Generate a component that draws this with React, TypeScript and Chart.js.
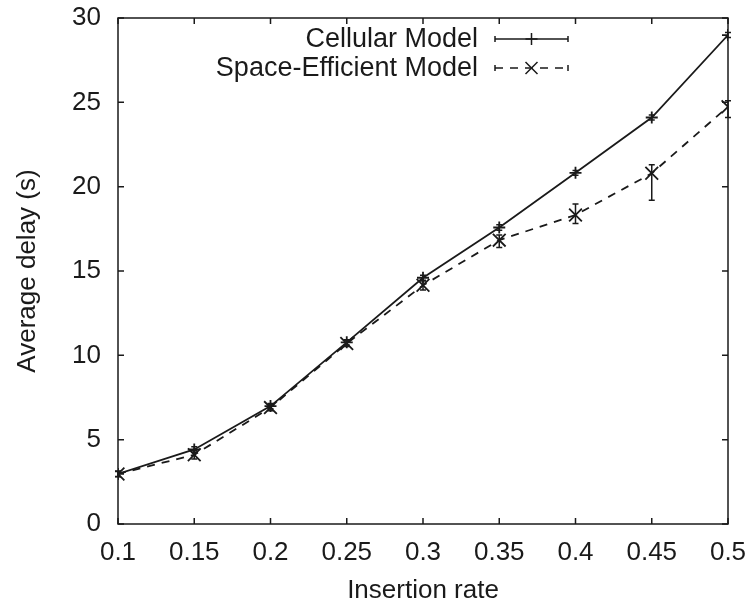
import React, { useEffect, useRef } from "react";
import { Chart, registerables } from "chart.js";

Chart.register(...registerables);

const insertionRate = [0.1, 0.15, 0.2, 0.25, 0.3, 0.35, 0.4, 0.45, 0.5];
const xTickLabels = ["0.1", "0.15", "0.2", "0.25", "0.3", "0.35", "0.4", "0.45", "0.5"];
const yTickValues = [0, 5, 10, 15, 20, 25, 30];

const cellular = [2.97, 4.42, 6.99, 10.77, 14.6, 17.58, 20.82, 24.1, 28.99];
const cellularLow = [2.82, 4.25, 6.84, 10.62, 14.45, 17.42, 20.68, 23.95, 28.84];
const cellularHigh = [3.12, 4.58, 7.14, 10.92, 14.75, 17.74, 20.96, 24.25, 29.14];

const spaceEff = [2.97, 4.1, 6.9, 10.7, 14.15, 16.83, 18.32, 20.79, 24.74];
const spaceLow = [2.8, 3.85, 6.72, 10.52, 13.87, 16.4, 17.82, 19.2, 24.1];
const spaceHigh = [3.14, 4.35, 7.08, 10.88, 14.4, 17.13, 18.97, 21.3, 25.09];

const seriesLabels = ["Cellular Model", "Space-Efficient Model"];

const FONT = "'Liberation Sans', Arial, Helvetica, sans-serif";
const INK = "#1a1a1a";

const errorBars = [
  { low: cellularLow, high: cellularHigh },
  { low: spaceLow, high: spaceHigh },
];

const gnuplotPlugin = {
  id: "gnuplotFrame",
  afterDatasetsDraw(chart: any) {
    const { ctx, chartArea, scales } = chart;
    const xs = scales.x;
    const ys = scales.y;
    ctx.save();
    ctx.setLineDash([]);
    ctx.strokeStyle = INK;
    ctx.lineWidth = 1.5;
    errorBars.forEach((eb) => {
      insertionRate.forEach((xv, i) => {
        const px = xs.getPixelForValue(xv);
        const yl = ys.getPixelForValue(eb.low[i]);
        const yh = ys.getPixelForValue(eb.high[i]);
        ctx.beginPath();
        ctx.moveTo(px, yl);
        ctx.lineTo(px, yh);
        ctx.moveTo(px - 3, yl);
        ctx.lineTo(px + 3, yl);
        ctx.moveTo(px - 3, yh);
        ctx.lineTo(px + 3, yh);
        ctx.stroke();
      });
    });
    ctx.lineWidth = 1.5;
    ctx.strokeRect(chartArea.left, chartArea.top, chartArea.right - chartArea.left, chartArea.bottom - chartArea.top);
    const tl = 6;
    ctx.beginPath();
    insertionRate.forEach((v) => {
      const px = xs.getPixelForValue(v);
      ctx.moveTo(px, chartArea.bottom);
      ctx.lineTo(px, chartArea.bottom - tl);
      ctx.moveTo(px, chartArea.top);
      ctx.lineTo(px, chartArea.top + tl);
    });
    yTickValues.forEach((v) => {
      const py = ys.getPixelForValue(v);
      ctx.moveTo(chartArea.left, py);
      ctx.lineTo(chartArea.left + tl, py);
      ctx.moveTo(chartArea.right, py);
      ctx.lineTo(chartArea.right - tl, py);
    });
    ctx.stroke();

    const datasets = chart.data.datasets;
    const textRight = chartArea.right - 250;
    const sx0 = chartArea.right - 233;
    const sx1 = chartArea.right - 160;
    const rows = [chartArea.top + 21, chartArea.top + 50];
    ctx.font = `27px ${FONT}`;
    ctx.fillStyle = INK;
    ctx.textAlign = "right";
    ctx.textBaseline = "middle";
    datasets.forEach((ds: any, i: number) => {
      const y = rows[i];
      ctx.fillText(ds.label, textRight, y + 1);
      ctx.setLineDash(ds.borderDash || []);
      ctx.lineWidth = 1.5;
      ctx.beginPath();
      ctx.moveTo(sx0, y);
      ctx.lineTo(sx1, y);
      ctx.stroke();
      ctx.setLineDash([]);
      ctx.beginPath();
      ctx.moveTo(sx0, y - 3);
      ctx.lineTo(sx0, y + 3);
      ctx.moveTo(sx1, y - 3);
      ctx.lineTo(sx1, y + 3);
      const mx = (sx0 + sx1) / 2;
      const r = 6;
      if (ds.pointStyle === "cross") {
        ctx.moveTo(mx - r, y);
        ctx.lineTo(mx + r, y);
        ctx.moveTo(mx, y - r);
        ctx.lineTo(mx, y + r);
      } else {
        const d = 6;
        ctx.moveTo(mx - d, y - d);
        ctx.lineTo(mx + d, y + d);
        ctx.moveTo(mx - d, y + d);
        ctx.lineTo(mx + d, y - d);
      }
      ctx.stroke();
    });
    ctx.restore();
  },
};

export default function App() {
  const ref = useRef<HTMLCanvasElement | null>(null);
  useEffect(() => {
    if (!ref.current) return;
    const chart = new Chart(ref.current, {
      type: "line",
      data: {
        datasets: [
          {
            label: seriesLabels[0],
            data: insertionRate.map((x, i) => ({ x, y: cellular[i] })),
            borderColor: INK,
            backgroundColor: INK,
            borderWidth: 1.8,
            pointStyle: "cross",
            pointRadius: 6,
            pointBorderWidth: 1.8,
            tension: 0,
          },
          {
            label: seriesLabels[1],
            data: insertionRate.map((x, i) => ({ x, y: spaceEff[i] })),
            borderColor: INK,
            backgroundColor: INK,
            borderWidth: 1.8,
            borderDash: [8, 7],
            pointStyle: "crossRot",
            pointRadius: 9,
            pointBorderWidth: 1.8,
            tension: 0,
          },
        ],
      },
      options: {
        animation: false,
        responsive: false,
        devicePixelRatio: 1,
        layout: { padding: { top: 18, right: 24, left: 0, bottom: 0 } },
        plugins: { legend: { display: false }, tooltip: { enabled: false } },
        scales: {
          x: {
            type: "linear",
            min: 0.1,
            max: 0.5,
            grid: { display: false, drawTicks: false },
            border: { display: false },
            afterBuildTicks: (s: any) => {
              s.ticks = insertionRate.map((v) => ({ value: v }));
            },
            afterFit: (s: any) => {
              s.height = 85;
              s.paddingLeft = 0;
              s.paddingRight = 0;
            },
            ticks: {
              padding: 13,
              color: INK,
              font: { family: FONT, size: 26 },
              maxRotation: 0,
              autoSkip: false,
              callback: (_v: any, i: number) => xTickLabels[i],
            },
            title: {
              display: true,
              text: "Insertion rate",
              color: INK,
              font: { family: FONT, size: 26 },
              padding: { top: 0, bottom: 3 },
            },
          },
          y: {
            type: "linear",
            min: 0,
            max: 30,
            grid: { display: false, drawTicks: false },
            border: { display: false },
            afterBuildTicks: (s: any) => {
              s.ticks = yTickValues.map((v) => ({ value: v }));
            },
            afterFit: (s: any) => {
              s.width = 118;
              s.paddingTop = 0;
              s.paddingBottom = 0;
            },
            ticks: {
              padding: 17,
              color: INK,
              font: { family: FONT, size: 26 },
              autoSkip: false,
              callback: (v: any) => String(v),
            },
            title: {
              display: true,
              text: "Average delay (s)",
              color: INK,
              font: { family: FONT, size: 26 },
              padding: { top: 12, bottom: 0 },
            },
          },
        },
      },
      plugins: [gnuplotPlugin],
    });
    return () => chart.destroy();
  }, []);
  return (
    <div style={{ position: "fixed", left: 0, top: 0, width: 752, height: 609, background: "#fff" }}>
      <canvas ref={ref} width={752} height={609} />
    </div>
  );
}
